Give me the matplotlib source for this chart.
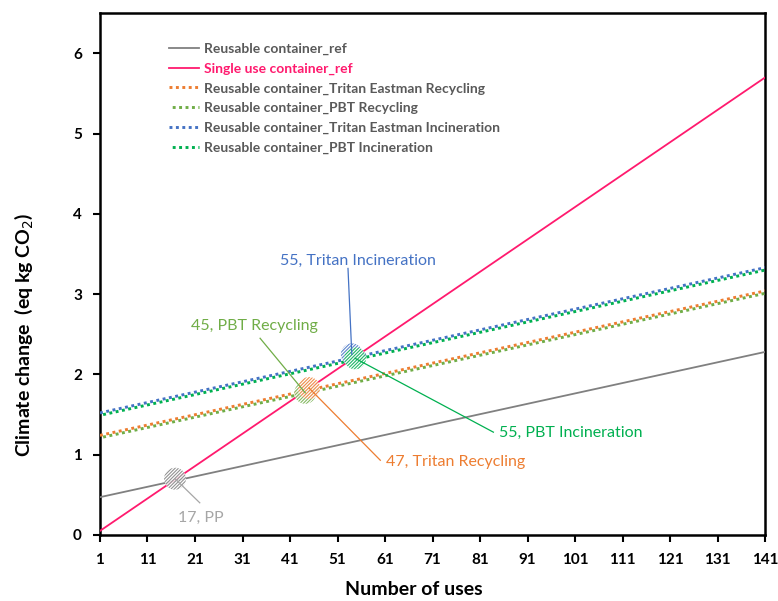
import numpy as np
import matplotlib.pyplot as plt

plt.rcParams['font.family'] = ['Lato', 'DejaVu Sans']

# straight lines, values at first and last use
uses = [1, 141]
reusable_ref = [0.47, 2.28]
single_use_ref = [0.05, 5.70]
tritan_recycling = [1.24, 3.04]
pbt_recycling = [1.21, 3.01]
tritan_incineration = [1.52, 3.33]
pbt_incineration = [1.49, 3.30]

labels = ['Reusable container_ref', 'Single use container_ref',
          'Reusable container_Tritan Eastman Recycling', 'Reusable container_PBT Recycling',
          'Reusable container_Tritan Eastman Incineration', 'Reusable container_PBT Incineration']
colors = ['#808080', '#FF1A6E', '#ED7D31', '#70AD47', '#4472C4', '#00B050']

# break-even points (uses, climate change)
bx = [16.8, 44.2, 45.0, 54.0, 54.7]
by = [0.70, 1.77, 1.83, 2.25, 2.20]
bcol = ['#808080', '#70AD47', '#ED7D31', '#4472C4', '#00B050']

fig = plt.figure(figsize=(7.78, 6.01), dpi=100)
ax = fig.add_axes([0.1285, 0.110, 0.855, 0.868])

series = [reusable_ref, single_use_ref, tritan_recycling, pbt_recycling,
          tritan_incineration, pbt_incineration]
for i, (s, lab, c) in enumerate(zip(series, labels, colors)):
    if i < 2:
        ax.plot(uses, s, color=c, lw=1.3, label=lab, zorder=3)
    else:
        ls = (0, (1, 1.2)) if i % 2 == 0 else (1.1, (1, 1.2))
        ax.plot(uses, s, color=c, lw=2.1, ls=ls, dash_capstyle='butt', label=lab, zorder=4)

plt.rcParams['hatch.linewidth'] = 0.8
for x, y, c in zip(bx, by, bcol):
    ax.scatter(x, y, s=250, marker='o', facecolor='white', edgecolor=c, hatch='//////////',
               linewidth=0, alpha=0.85, zorder=5)

# annotations: text, colour, point, text position, alignment, leader end
ann = [
    ('55, Tritan Incineration', '#4472C4', (54.0, 2.25), (55.3, 3.42), 'center', (53.2, 3.32)),
    ('45, PBT Recycling', '#70AD47', (44.2, 1.77), (33.6, 2.60), 'center', (34.7, 2.45)),
    ('55, PBT Incineration', '#00B050', (54.7, 2.20), (85.0, 1.27), 'left', (83.8, 1.28)),
    ('47, Tritan Recycling', '#ED7D31', (45.0, 1.83), (61.2, 0.91), 'left', (60.0, 0.93)),
    ('17, PP', '#A6A6A6', (16.8, 0.70), (22.2, 0.21), 'center', (22.0, 0.40)),
]
for txt, c, pt, tp, ha, lp in ann:
    ax.plot([pt[0], lp[0]], [pt[1], lp[1]], color=c, lw=0.9, zorder=6)
    ax.text(tp[0], tp[1], txt, color=c, fontsize=11.5, ha=ha, va='center')

ax.set_xlim(1, 141)
ax.set_ylim(0, 6.5)
ax.set_xticks(np.arange(1, 142, 10))
ax.set_yticks(np.arange(0, 7, 1))
ax.tick_params(direction='out', length=5, width=1.5, labelsize=11, pad=8)
for lab in ax.get_xticklabels() + ax.get_yticklabels():
    lab.set_fontweight('bold')
for sp in ax.spines.values():
    sp.set_linewidth(1.8)

ax.set_xlabel('Number of uses', fontsize=14, fontweight='bold')
ax.set_ylabel('Climate change  (eq kg CO$_2$)', fontsize=14, fontweight='bold')
ax.xaxis.set_label_coords(0.472, -0.088)
ax.yaxis.set_label_coords(-0.097, 0.383)

leg = ax.legend(loc='upper left', bbox_to_anchor=(0.094, 0.957), frameon=False,
                fontsize=10, handlelength=2.1, handletextpad=0.4, labelspacing=0.55,
                borderpad=0)
for t, c in zip(leg.get_texts(), colors):
    t.set_fontweight('bold')
    t.set_color('#FF1A6E' if c == '#FF1A6E' else '#595959')

fig.savefig('out.png', dpi=100)
